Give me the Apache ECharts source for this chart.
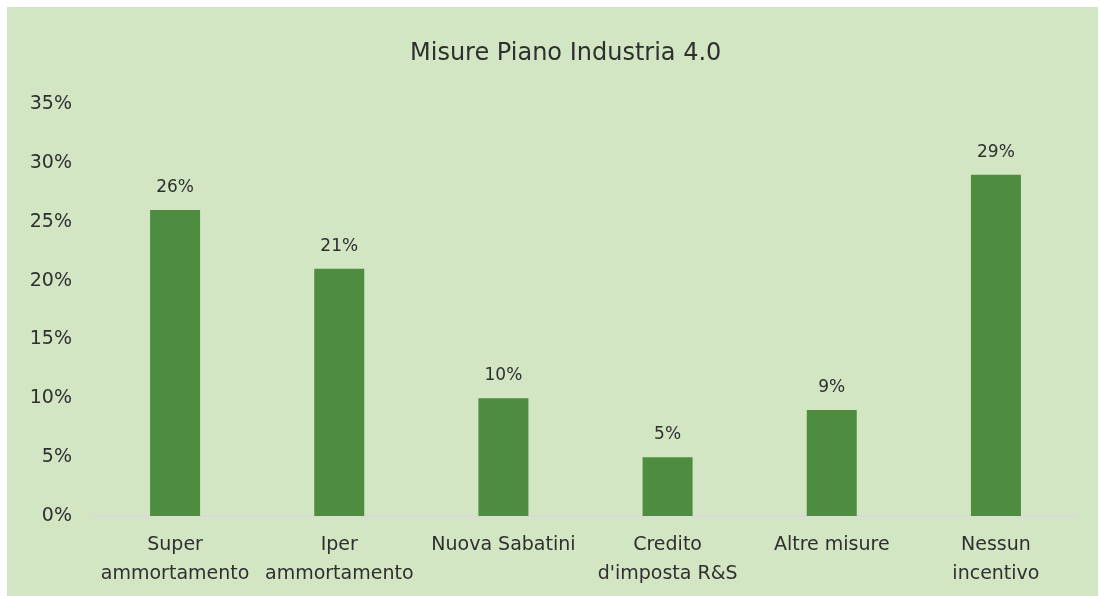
<!DOCTYPE html>
<html>
<head>
<meta charset="utf-8">
<script src="https://cdn.jsdelivr.net/npm/echarts@6/dist/echarts.min.js"></script>
<style>
  html, body { margin: 0; padding: 0; background: #fff; }
  #chart { position: absolute; left: 7px; top: 7px; width: 1091px; height: 589px; background: #d2e6c4; }
</style>
</head>
<body>
<div id="chart"></div>
<script>
// dati del grafico
var categories = ['Super\nammortamento', 'Iper\nammortamento', 'Nuova Sabatini', 'Credito\nd\'imposta R&S', 'Altre misure', 'Nessun\nincentivo'];
var values = [26, 21, 10, 5, 9, 29];
var chartTitle = 'Misure Piano Industria 4.0';

var textColor = '#2f2f2f';
var font = 'DejaVu Sans';

var myChart = echarts.init(document.getElementById('chart'));
myChart.setOption({
  backgroundColor: '#d2e6c4',
  title: {
    text: chartTitle,
    left: 398,
    top: 30,
    textStyle: { color: textColor, fontFamily: font, fontSize: 24, fontWeight: 'normal' }
  },
  grid: { left: 86, right: 20, top: 97, bottom: 80 },
  xAxis: {
    type: 'category',
    data: categories,
    axisLine: { lineStyle: { color: '#d9d9d9', width: 2 } },
    axisTick: { show: false },
    axisLabel: {
      color: textColor, fontFamily: font, fontSize: 19, margin: 15,
      lineHeight: 29, interval: 0
    }
  },
  yAxis: {
    type: 'value',
    min: 0,
    max: 35,
    interval: 5,
    splitLine: { show: false },
    axisLine: { show: false },
    axisTick: { show: false },
    axisLabel: {
      color: textColor, fontFamily: font, fontSize: 19, margin: 21,
      formatter: '{value}%'
    }
  },
  series: [{
    type: 'bar',
    data: values,
    barWidth: 50,
    itemStyle: { color: '#4e8c3f' },
    label: {
      show: true,
      position: 'top',
      distance: 14,
      formatter: '{c}%',
      color: textColor,
      fontFamily: font,
      fontSize: 17
    }
  }]
});
</script>
</body>
</html>
